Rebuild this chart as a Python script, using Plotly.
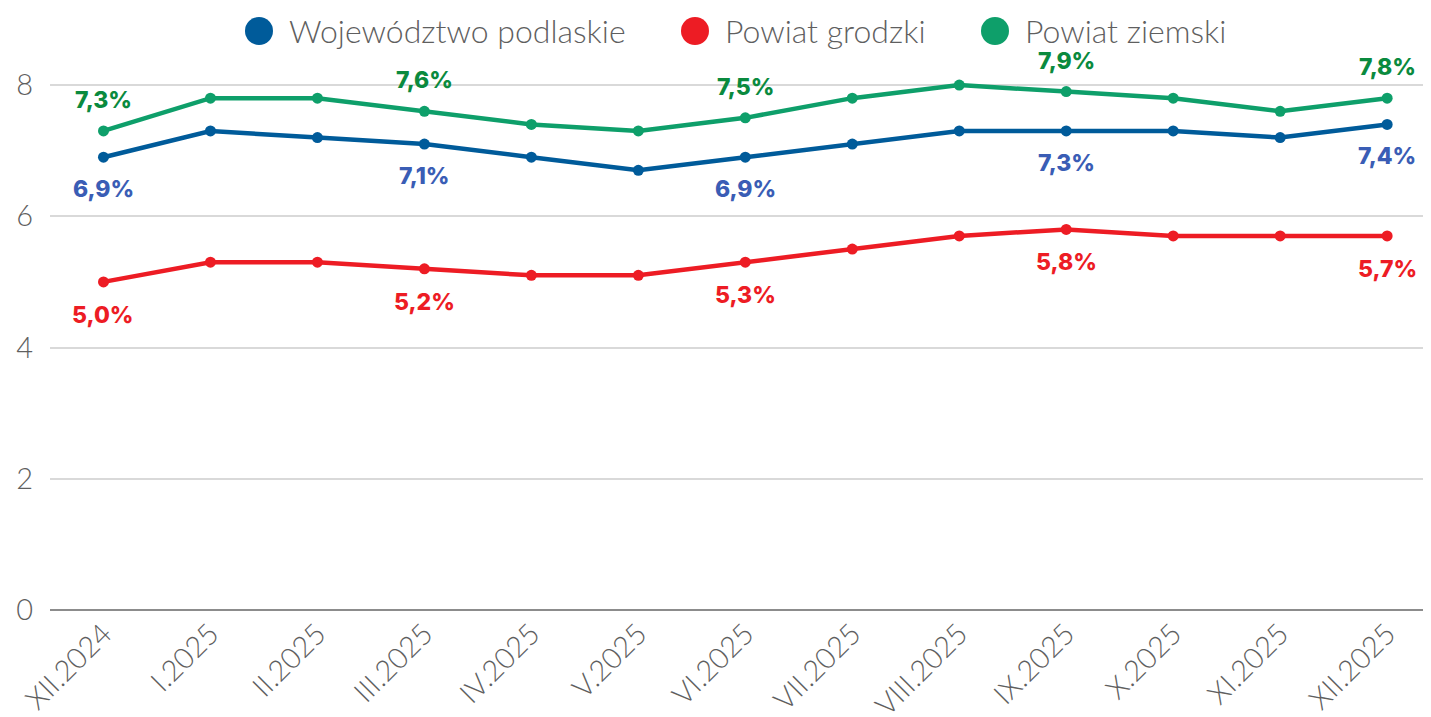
import plotly.graph_objects as go

# dane
months = ["XII.2024", "I.2025", "II.2025", "III.2025", "IV.2025", "V.2025", "VI.2025",
          "VII.2025", "VIII.2025", "IX.2025", "X.2025", "XI.2025", "XII.2025"]
wojewodztwo = [6.9, 7.3, 7.2, 7.1, 6.9, 6.7, 6.9, 7.1, 7.3, 7.3, 7.3, 7.2, 7.4]
grodzki = [5.0, 5.3, 5.3, 5.2, 5.1, 5.1, 5.3, 5.5, 5.7, 5.8, 5.7, 5.7, 5.7]
ziemski = [7.3, 7.8, 7.8, 7.6, 7.4, 7.3, 7.5, 7.8, 8.0, 7.9, 7.8, 7.6, 7.8]
y_ticks = [0, 2, 4, 6, 8]

series = [
    ("Województwo podlaskie", wojewodztwo, "#005B9A", "#3A5DB5", -32),
    ("Powiat grodzki", grodzki, "#ED1C24", "#ED1C24", -33),
    ("Powiat ziemski", ziemski, "#0E9F6A", "#0A8A3E", 31),
]

LIGHT = "Lato"
BOLD = "Inter"

# strona ma 8px marginesu body, wiec figura jest troche mniejsza
W, H = 1423, 709
M = dict(l=42, r=0, t=37, b=107)
plot_w = W - M["l"] - M["r"]
plot_h = H - M["t"] - M["b"]

fig = go.Figure()

for name, vals, color, lab_color, shift in series:
    fig.add_trace(go.Scatter(
        x=months, y=vals, mode="lines+markers",
        line=dict(color=color, width=4.5),
        marker=dict(color=color, size=11),
        showlegend=False, hoverinfo="skip"
    ))
    # etykiety co trzeci miesiac
    for i in range(0, len(months), 3):
        fig.add_annotation(
            x=months[i], y=vals[i], yshift=shift,
            text=f"{vals[i]:.1f}%".replace(".", ","),
            showarrow=False,
            font=dict(family=BOLD, size=23, color=lab_color, weight=800)
        )

# legenda rysowana recznie (duze kropki)
legend_x = [251, 687, 987]  # srodki kropek w px figury
leg_y = 1 + (M["t"] - 23) / plot_h
for (name, vals, color, lab_color, shift), lx in zip(series, legend_x):
    px = (lx - M["l"]) / plot_w
    fig.add_shape(
        type="circle", xref="paper", yref="paper",
        xsizemode="pixel", ysizemode="pixel", xanchor=px, yanchor=leg_y,
        x0=-14, x1=14, y0=-14, y1=14,
        fillcolor=color, line=dict(width=0)
    )
    fig.add_annotation(
        x=(lx + 28 - M["l"]) / plot_w, y=leg_y, xref="paper", yref="paper",
        xanchor="left", yanchor="middle", showarrow=False, text=name,
        font=dict(family=LIGHT, size=32, color="#5f5f5f", weight=300)
    )

fig.update_layout(
    width=W, height=H,
    margin=M,
    plot_bgcolor="white", paper_bgcolor="white",
    showlegend=False,
    xaxis=dict(
        type="category", range=[-0.5, 12.41], automargin=False,
        tickangle=-45, showgrid=False, ticks="",
        tickfont=dict(family=LIGHT, size=29, color="#5f5f5f", weight=300),
        showline=False
    ),
    yaxis=dict(
        range=[0, 8.61], tickvals=y_ticks, automargin=False,
        showgrid=True, gridcolor="#d9d9d9", gridwidth=1.5,
        zeroline=True, zerolinecolor="#8c8c8c", zerolinewidth=1.5,
        tickfont=dict(family=LIGHT, size=29, color="#5f5f5f", weight=300),
        ticklabelstandoff=16
    ),
)

fig.write_html("out.html")
